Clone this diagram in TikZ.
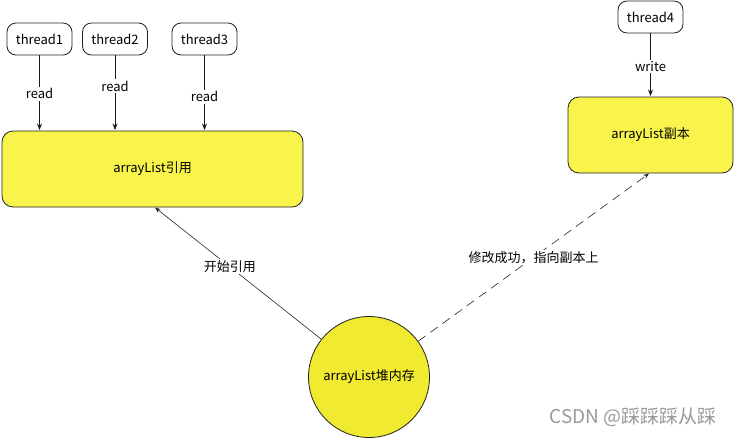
\documentclass[tikz,border=0pt]{standalone}
\usepackage{fontspec}
\setmainfont{Noto Sans CJK SC}
\usetikzlibrary{arrows.meta}

\definecolor{boxyellow}{HTML}{F8F44C}
\definecolor{heapyellow}{HTML}{F0EA30}
\definecolor{edgegray}{HTML}{222222}

\begin{document}
\begin{tikzpicture}[x=1pt, y=-1pt, >=Stealth,
    thread/.style={draw=edgegray, line width=0.8pt, fill=white, rounded corners=9pt,
      minimum width=65pt, minimum height=32pt, inner sep=0pt, font=\fontsize{13}{15}\selectfont},
    store/.style={draw=edgegray, line width=0.8pt, fill=boxyellow, rounded corners=11pt,
      inner sep=0pt, font=\fontsize{13}{15}\selectfont},
    heap/.style={draw=edgegray, line width=0.8pt, fill=heapyellow, circle, minimum size=121pt,
      inner sep=0pt, font=\fontsize{13}{15}\selectfont},
    lbl/.style={fill=white, inner sep=1.5pt, font=\fontsize{13}{15}\selectfont},
    link/.style={->, draw=black!90, line width=0.8pt, shorten >=0.5pt}]

  \useasboundingbox (0,0) rectangle (734,437);

  % 线程
  \node[thread] (t1) at (39.5,39) {thread1};
  \node[thread] (t2) at (115,39) {thread2};
  \node[thread] (t3) at (204.5,39) {thread3};
  \node[thread] (t4) at (650.5,17) {thread4};

  % 引用与副本
  \node[store, minimum width=301pt, minimum height=76pt] (ref) at (152.5,169) {arrayList引用};
  \node[store, minimum width=165pt, minimum height=76pt] (copy) at (650.5,135) {arrayList副本};

  % 堆内存
  \node[heap] (mem) at (369,377) {arrayList堆内存};

  % 读写
  \draw[link] (t1) -- (t1 |- ref.north) node[lbl, pos=0.51] {read};
  \draw[link] (t2) -- (t2 |- ref.north) node[lbl, pos=0.41] {read};
  \draw[link] (t3) -- (t3 |- ref.north) node[lbl, pos=0.55] {read};
  \draw[link] (t4) -- (copy.north) node[lbl, pos=0.52] {write};

  % 指向
  \coordinate (refin) at (155,207.5);
  \coordinate (copyin) at (649,173.5);
  \draw[->, draw=black!85, line width=0.6pt] (mem) -- (refin) node[lbl, pos=0.55] {开始引用};
  \draw[->, draw=black!85, line width=0.6pt, dash pattern=on 9pt off 6pt] (mem) -- (copyin)
    node[lbl, pos=0.5] {修改成功，指向副本上};

  % 水印
  \node[text=black!40, font=\fontsize{19}{21}\selectfont] (mark) at (633,417) {CSDN @踩踩踩从踩};

\end{tikzpicture}
\end{document}
